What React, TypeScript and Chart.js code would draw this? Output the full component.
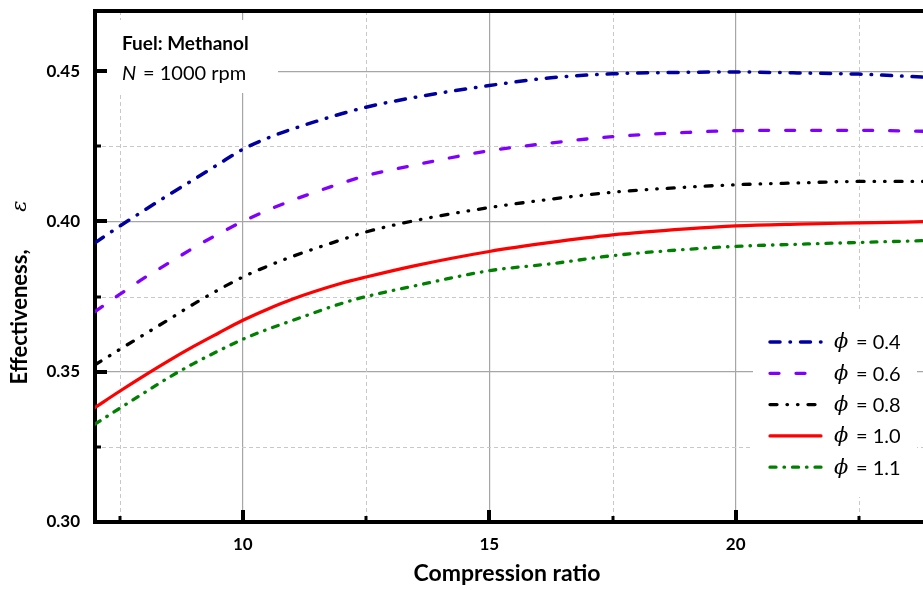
import React, { useEffect, useRef } from 'react';
import { Chart, registerables } from 'chart.js';

Chart.register(...registerables);

// ---- data ----
const compressionRatio = [7, 7.5, 8, 8.5, 9, 9.5, 10, 10.5, 11, 12, 12.5, 13.5, 15, 16.25, 17.5, 19, 20, 21.25, 22.5, 23.8];
const phi04 = [0.3929, 0.3984, 0.4037, 0.4089, 0.4139, 0.4190, 0.4240, 0.4277, 0.4307, 0.4358, 0.4380, 0.4413, 0.4452, 0.4478, 0.4491, 0.4496, 0.4497, 0.4494, 0.4490, 0.4480];
const phi06 = [0.3700, 0.3757, 0.3812, 0.3862, 0.3912, 0.3958, 0.4000, 0.4037, 0.4070, 0.4127, 0.4152, 0.4188, 0.4235, 0.4261, 0.4282, 0.4296, 0.4302, 0.4303, 0.4303, 0.4300];
const phi08 = [0.3523, 0.3574, 0.3624, 0.3674, 0.3725, 0.3772, 0.3815, 0.3851, 0.3883, 0.3939, 0.3965, 0.4003, 0.4046, 0.4074, 0.4097, 0.4114, 0.4122, 0.4128, 0.4133, 0.4133];
const phi10 = [0.3381, 0.3435, 0.3487, 0.3537, 0.3584, 0.3628, 0.3671, 0.3708, 0.3741, 0.3794, 0.3815, 0.3853, 0.3900, 0.3930, 0.3955, 0.3975, 0.3985, 0.3991, 0.3995, 0.3999];
const phi11 = [0.3326, 0.3378, 0.3430, 0.3481, 0.3527, 0.3569, 0.3608, 0.3641, 0.3670, 0.3727, 0.3750, 0.3786, 0.3836, 0.3859, 0.3886, 0.3907, 0.3917, 0.3924, 0.3930, 0.3936];

const seriesLabels = ['0.4', '0.6', '0.8', '1.0', '1.1'];
const seriesValues = [phi04, phi06, phi08, phi10, phi11];

const xMajorTicks = [10, 15, 20];
const xMinorTicks = [7.5, 12.5, 17.5, 22.5];
const yMajorTicks = [0.30, 0.35, 0.40, 0.45];
const yMinorTicks = [0.325, 0.375, 0.425];
const xRange = [7, 23.8];
const yRange = [0.30, 0.47];

const xTitle = 'Compression ratio';
const yTitle = 'Effectiveness,';
const yTitleSymbol = 'ε';
const noteLine1 = 'Fuel: Methanol';
const noteSymbol = 'N';
const noteLine2 = '= 1000 rpm';
const legendSymbol = 'ϕ';

// ---- styles ----
const seriesStyles = [
  { color: '#0000A0', width: 3.5, dash: [10, 10, 0.5, 10] },
  { color: '#8000FF', width: 3.3, dash: [9, 17] },
  { color: '#000000', width: 3.3, dash: [7, 10, 0.5, 10, 0.5, 10] },
  { color: '#FF0000', width: 3.2, dash: [] as number[] },
  { color: '#008000', width: 3.3, dash: [6, 8, 0.5, 8] },
];

const SANS = 'Lato, "Open Sans", sans-serif';
const SERIF = '"DejaVu Serif", serif';

const near = (a: number, list: number[]) => list.some((v) => Math.abs(v - a) < 1e-6);

const decorPlugin = {
  id: 'decor',
  beforeDatasetsDraw(chart: any) {
    const { ctx, chartArea: a, scales } = chart;
    const xs = scales.x;
    const ys = scales.y;
    ctx.save();
    ctx.strokeStyle = '#c8c8c8';
    ctx.lineWidth = 1;
    ctx.setLineDash([4, 3]);
    xMinorTicks.forEach((v) => {
      const px = Math.round(xs.getPixelForValue(v)) + 0.5;
      ctx.beginPath();
      ctx.moveTo(px, a.top);
      ctx.lineTo(px, a.bottom);
      ctx.stroke();
    });
    yMinorTicks.forEach((v) => {
      const py = Math.round(ys.getPixelForValue(v)) + 0.5;
      ctx.beginPath();
      ctx.moveTo(a.left, py);
      ctx.lineTo(a.right, py);
      ctx.stroke();
    });
    ctx.setLineDash([]);
    // white backgrounds of the note and the legend
    ctx.fillStyle = '#ffffff';
    ctx.fillRect(100, 20, 178, 73);
    ctx.fillRect(753, 310, 164, 187);
    ctx.restore();
  },
  afterDatasetsDraw(chart: any) {
    const { ctx, chartArea: a, scales } = chart;
    const xs = scales.x;
    const ys = scales.y;
    ctx.save();
    ctx.fillStyle = '#000';
    // top frame line
    ctx.fillRect(a.left - 2, a.top - 2, a.right - a.left + 2, 4);
    // inner tick marks
    xMajorTicks.forEach((v) => {
      const px = xs.getPixelForValue(v);
      ctx.fillRect(Math.round(px) - 2, a.bottom - 12, 4, 12);
    });
    xMinorTicks.forEach((v) => {
      const px = xs.getPixelForValue(v);
      ctx.fillRect(Math.round(px) - 1.5, a.bottom - 6, 3, 6);
    });
    yMajorTicks.forEach((v) => {
      if (v === yRange[0]) return;
      const py = ys.getPixelForValue(v);
      ctx.fillRect(a.left, Math.round(py) - 2, 12, 4);
    });
    yMinorTicks.forEach((v) => {
      const py = ys.getPixelForValue(v);
      ctx.fillRect(a.left, Math.round(py) - 1.5, 6, 3);
    });

    // note
    ctx.textBaseline = 'alphabetic';
    ctx.textAlign = 'left';
    ctx.font = `bold 19px ${SANS}`;
    ctx.fillText(noteLine1, 122, 50);
    ctx.font = `italic 20px ${SANS}`;
    ctx.fillText(noteSymbol, 122, 80);
    ctx.font = `20px ${SANS}`;
    ctx.fillText(noteLine2, 143, 80);

    // legend
    chart.data.datasets.forEach((ds: any, i: number) => {
      const y = 342 + i * 31.3;
      ctx.save();
      ctx.strokeStyle = ds.borderColor;
      ctx.lineWidth = ds.borderWidth;
      ctx.lineCap = 'round';
      ctx.setLineDash(ds.borderDash || []);
      ctx.beginPath();
      ctx.moveTo(770, y);
      ctx.lineTo(821, y);
      ctx.stroke();
      ctx.restore();
      ctx.fillStyle = '#000';
      ctx.textBaseline = 'middle';
      ctx.font = `italic 21px ${SERIF}`;
      ctx.fillText(legendSymbol, 834, y + 1);
      ctx.font = `20px ${SANS}`;
      ctx.fillText('= ' + seriesLabels[i], 856, y + 1);
    });

    // axis titles
    ctx.fillStyle = '#000';
    ctx.textAlign = 'center';
    ctx.textBaseline = 'alphabetic';
    ctx.font = `bold 23px ${SANS}`;
    ctx.fillText(xTitle, (a.left + a.right) / 2 - 2, 581);

    ctx.save();
    ctx.translate(27, 0);
    ctx.rotate(-Math.PI / 2);
    ctx.font = `bold 22px ${SANS}`;
    ctx.fillText(yTitle, -317, 0);
    ctx.font = `italic 21px ${SERIF}`;
    ctx.fillText(yTitleSymbol, -206, -1);
    ctx.restore();

    ctx.restore();
  },
};

export default function App() {
  const ref = useRef<HTMLCanvasElement | null>(null);

  useEffect(() => {
    document.body.style.margin = '0';
    const canvas = ref.current;
    if (!canvas) return;
    const datasets = seriesValues.map((vals, i) => ({
      label: '\u03d5 = ' + seriesLabels[i],
      data: compressionRatio.map((x, j) => ({ x, y: vals[j] })),
      borderColor: seriesStyles[i].color,
      backgroundColor: seriesStyles[i].color,
      borderWidth: seriesStyles[i].width,
      borderDash: seriesStyles[i].dash,
      borderCapStyle: 'round',
      borderJoinStyle: 'round',
      pointRadius: 0,
      fill: false,
      cubicInterpolationMode: 'monotone',
    }));

    const chart = new Chart(canvas, {
      type: 'line',
      data: { datasets } as any,
      options: {
        animation: false,
        responsive: false,
        devicePixelRatio: 1,
        layout: { padding: { top: 11, left: 0, right: 0, bottom: 0 } },
        plugins: { legend: { display: false }, tooltip: { enabled: false } },
        scales: {
          x: {
            type: 'linear',
            min: xRange[0],
            max: xRange[1],
            afterBuildTicks: (s: any) => {
              s.ticks = [...xMinorTicks, ...xMajorTicks].sort((p, q) => p - q).map((v) => ({ value: v }));
            },
            afterFit: (s: any) => {
              s.height = 68;
              s.paddingLeft = 0;
              s.paddingRight = 0;
            },
            grid: {
              color: (c: any) => (c.tick && near(c.tick.value, xMajorTicks) ? '#a6a6a6' : 'rgba(0,0,0,0)'),
              lineWidth: 1.2,
              drawTicks: false,
            },
            border: { color: '#000', width: 4 },
            ticks: {
              autoSkip: false,
              maxRotation: 0,
              padding: 12,
              color: '#000',
              font: { family: SANS, weight: 'bold', size: 17 },
              callback: (v: any) => (near(Number(v), xMajorTicks) ? String(v) : ''),
            },
          },
          y: {
            type: 'linear',
            min: yRange[0],
            max: yRange[1],
            afterBuildTicks: (s: any) => {
              s.ticks = [...yMajorTicks, ...yMinorTicks].sort((p, q) => p - q).map((v) => ({ value: v }));
            },
            afterFit: (s: any) => {
              s.width = 95;
              s.paddingTop = 0;
              s.paddingBottom = 0;
            },
            grid: {
              color: (c: any) => (c.tick && near(c.tick.value, yMajorTicks) ? '#a6a6a6' : 'rgba(0,0,0,0)'),
              lineWidth: 1.2,
              drawTicks: false,
            },
            border: { color: '#000', width: 4 },
            ticks: {
              autoSkip: false,
              padding: 15,
              color: '#000',
              font: { family: SANS, weight: 'bold', size: 17 },
              callback: (v: any) => (near(Number(v), yMajorTicks) ? Number(v).toFixed(2) : ''),
            },
          },
        },
      } as any,
      plugins: [decorPlugin],
    });
    return () => chart.destroy();
  }, []);

  return <canvas ref={ref} width={923} height={590} style={{ display: 'block' }} />;
}
